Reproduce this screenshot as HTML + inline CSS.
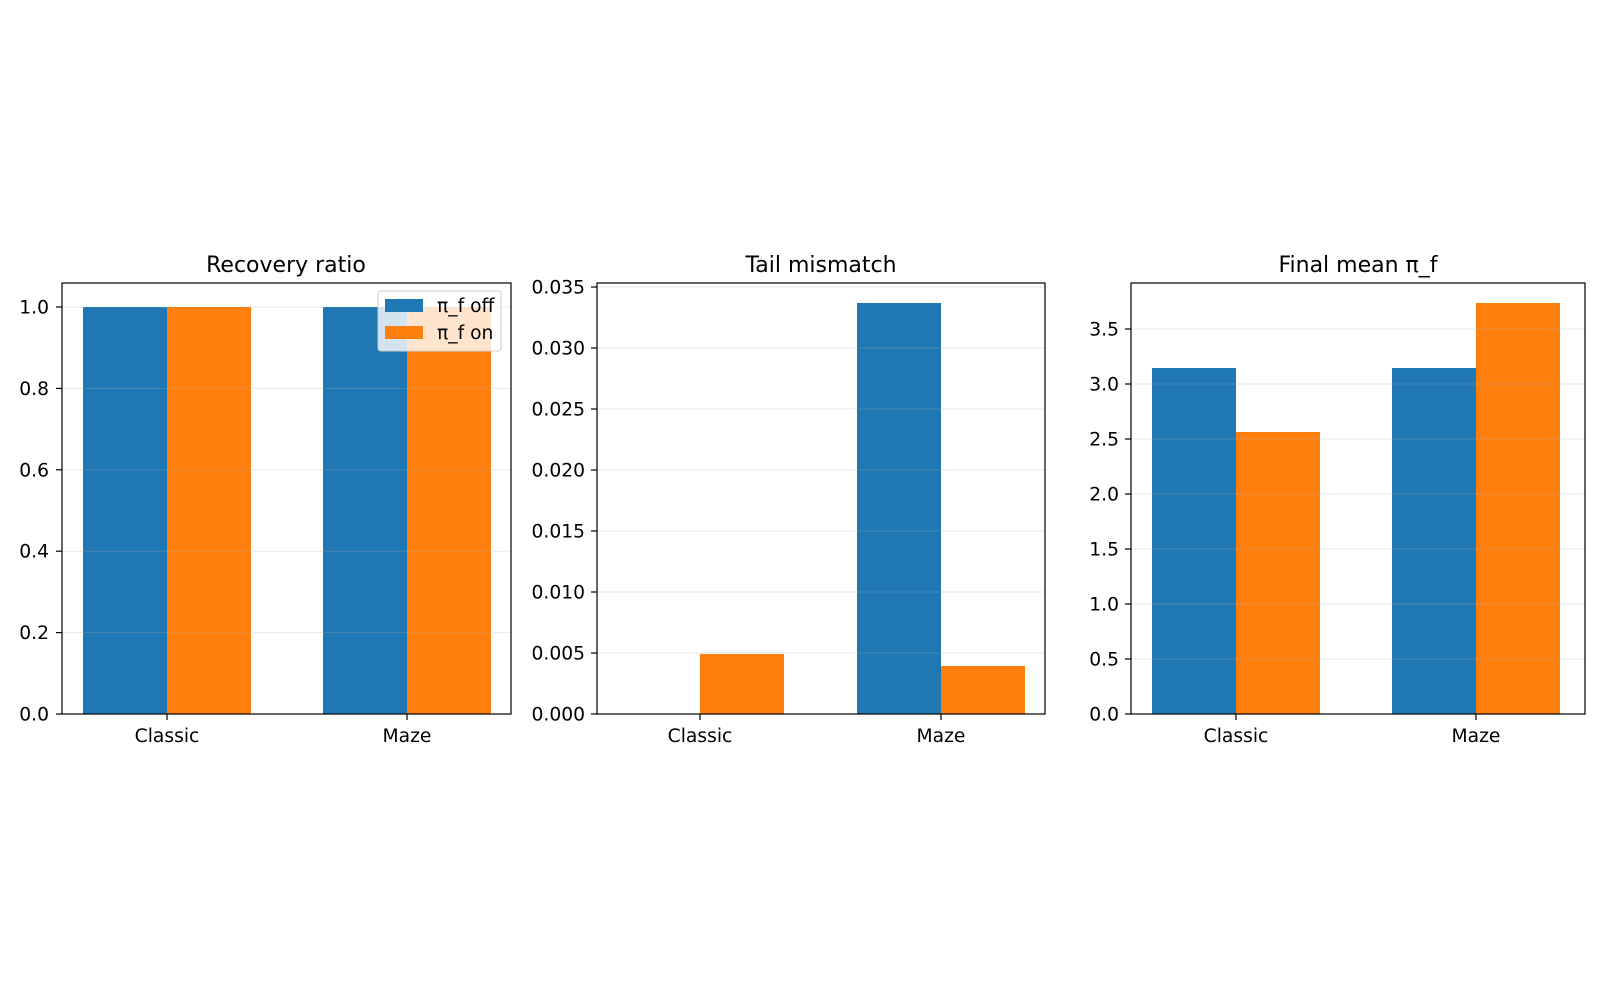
<!DOCTYPE html>
<html><head><meta charset="utf-8"><style>
html,body{margin:0;padding:0;background:#fff;}
svg text{font-family:"DejaVu Sans","Liberation Sans",sans-serif;fill:#000;}
</style></head><body>
<svg width="1600" height="1000" xmlns="http://www.w3.org/2000/svg">
<rect width="1600" height="1000" fill="#fff"/>
<!-- Panel 1 -->
<g>
<rect x="83" y="307" width="84" height="407" fill="#1f77b4"/>
<rect x="167" y="307" width="84" height="407" fill="#ff7f0e"/>
<rect x="323" y="307" width="84" height="407" fill="#1f77b4"/>
<rect x="407" y="307" width="84" height="407" fill="#ff7f0e"/>
<g stroke="#b0b0b0" stroke-opacity="0.3" stroke-width="1">
<line x1="62" x2="511" y1="307" y2="307"/><line x1="62" x2="511" y1="388.4" y2="388.4"/>
<line x1="62" x2="511" y1="469.8" y2="469.8"/><line x1="62" x2="511" y1="551.2" y2="551.2"/>
<line x1="62" x2="511" y1="632.6" y2="632.6"/>
</g>
<rect x="62" y="283" width="449" height="431" fill="none" stroke="#000" stroke-width="1.2"/>
<g stroke="#000" stroke-width="1.2">
<line x1="56" x2="62" y1="714" y2="714"/><line x1="56" x2="62" y1="632.6" y2="632.6"/><line x1="56" x2="62" y1="551.2" y2="551.2"/><line x1="56" x2="62" y1="469.8" y2="469.8"/><line x1="56" x2="62" y1="388.4" y2="388.4"/><line x1="56" x2="62" y1="307" y2="307"/>
<line x1="167" x2="167" y1="714" y2="720"/><line x1="407" x2="407" y1="714" y2="720"/>
</g>
<g font-size="18.7" text-anchor="end">
<text x="49" y="720.5">0.0</text><text x="49" y="639">0.2</text><text x="49" y="557.7">0.4</text><text x="49" y="476.3">0.6</text><text x="49" y="394.9">0.8</text><text x="49" y="313.5">1.0</text>
</g>
<g font-size="18.7" text-anchor="middle"><text x="167" y="742">Classic</text><text x="407" y="742">Maze</text></g>
<text x="286" y="272" font-size="22" text-anchor="middle">Recovery ratio</text>
<rect x="378" y="291" width="123" height="60" rx="3" fill="#fff" fill-opacity="0.8" stroke="#ccc" stroke-width="1"/>
<rect x="385" y="299" width="38" height="13" fill="#1f77b4"/>
<rect x="385" y="326" width="38" height="13" fill="#ff7f0e"/>
<text x="437" y="312" font-size="18.7">π_f off</text>
<text x="437" y="339" font-size="18.7">π_f on</text>
</g>
<!-- Panel 2 -->
<g>
<rect x="700" y="654" width="84" height="60" fill="#ff7f0e"/>
<rect x="857" y="303" width="84" height="411" fill="#1f77b4"/>
<rect x="941" y="666" width="84" height="48" fill="#ff7f0e"/>
<g stroke="#b0b0b0" stroke-opacity="0.3" stroke-width="1">
<line x1="597" x2="1045" y1="653" y2="653"/><line x1="597" x2="1045" y1="592" y2="592"/><line x1="597" x2="1045" y1="531" y2="531"/><line x1="597" x2="1045" y1="470" y2="470"/><line x1="597" x2="1045" y1="409" y2="409"/><line x1="597" x2="1045" y1="348" y2="348"/><line x1="597" x2="1045" y1="287" y2="287"/>
</g>
<rect x="597" y="283" width="448" height="431" fill="none" stroke="#000" stroke-width="1.2"/>
<g stroke="#000" stroke-width="1.2">
<line x1="591" x2="597" y1="714" y2="714"/><line x1="591" x2="597" y1="653" y2="653"/><line x1="591" x2="597" y1="592" y2="592"/><line x1="591" x2="597" y1="531" y2="531"/><line x1="591" x2="597" y1="470" y2="470"/><line x1="591" x2="597" y1="409" y2="409"/><line x1="591" x2="597" y1="348" y2="348"/><line x1="591" x2="597" y1="287" y2="287"/>
<line x1="700" x2="700" y1="714" y2="720"/><line x1="941" x2="941" y1="714" y2="720"/>
</g>
<g font-size="18.7" text-anchor="end">
<text x="585" y="720.5">0.000</text><text x="585" y="659.5">0.005</text><text x="585" y="598.5">0.010</text><text x="585" y="537.5">0.015</text><text x="585" y="476.5">0.020</text><text x="585" y="415.5">0.025</text><text x="585" y="354.5">0.030</text><text x="585" y="293.5">0.035</text>
</g>
<g font-size="18.7" text-anchor="middle"><text x="700" y="742">Classic</text><text x="941" y="742">Maze</text></g>
<text x="821" y="272" font-size="22" text-anchor="middle">Tail mismatch</text>
</g>
<!-- Panel 3 -->
<g>
<rect x="1152" y="368" width="84" height="346" fill="#1f77b4"/>
<rect x="1236" y="432" width="84" height="282" fill="#ff7f0e"/>
<rect x="1392" y="368" width="84" height="346" fill="#1f77b4"/>
<rect x="1476" y="303" width="84" height="411" fill="#ff7f0e"/>
<g stroke="#b0b0b0" stroke-opacity="0.3" stroke-width="1">
<line x1="1131" x2="1585" y1="659" y2="659"/><line x1="1131" x2="1585" y1="604" y2="604"/><line x1="1131" x2="1585" y1="549" y2="549"/><line x1="1131" x2="1585" y1="494" y2="494"/><line x1="1131" x2="1585" y1="439" y2="439"/><line x1="1131" x2="1585" y1="384" y2="384"/><line x1="1131" x2="1585" y1="329" y2="329"/>
</g>
<rect x="1131" y="283" width="454" height="431" fill="none" stroke="#000" stroke-width="1.2"/>
<g stroke="#000" stroke-width="1.2">
<line x1="1125" x2="1131" y1="714" y2="714"/><line x1="1125" x2="1131" y1="659" y2="659"/><line x1="1125" x2="1131" y1="604" y2="604"/><line x1="1125" x2="1131" y1="549" y2="549"/><line x1="1125" x2="1131" y1="494" y2="494"/><line x1="1125" x2="1131" y1="439" y2="439"/><line x1="1125" x2="1131" y1="384" y2="384"/><line x1="1125" x2="1131" y1="329" y2="329"/>
<line x1="1236" x2="1236" y1="714" y2="720"/><line x1="1476" x2="1476" y1="714" y2="720"/>
</g>
<g font-size="18.7" text-anchor="end">
<text x="1119" y="720.5">0.0</text><text x="1119" y="665.5">0.5</text><text x="1119" y="610.5">1.0</text><text x="1119" y="555.5">1.5</text><text x="1119" y="500.5">2.0</text><text x="1119" y="445.5">2.5</text><text x="1119" y="390.5">3.0</text><text x="1119" y="335.5">3.5</text>
</g>
<g font-size="18.7" text-anchor="middle"><text x="1236" y="742">Classic</text><text x="1476" y="742">Maze</text></g>
<text x="1358" y="272" font-size="22" text-anchor="middle">Final mean π_f</text>
</g>
</svg>
</body></html>
